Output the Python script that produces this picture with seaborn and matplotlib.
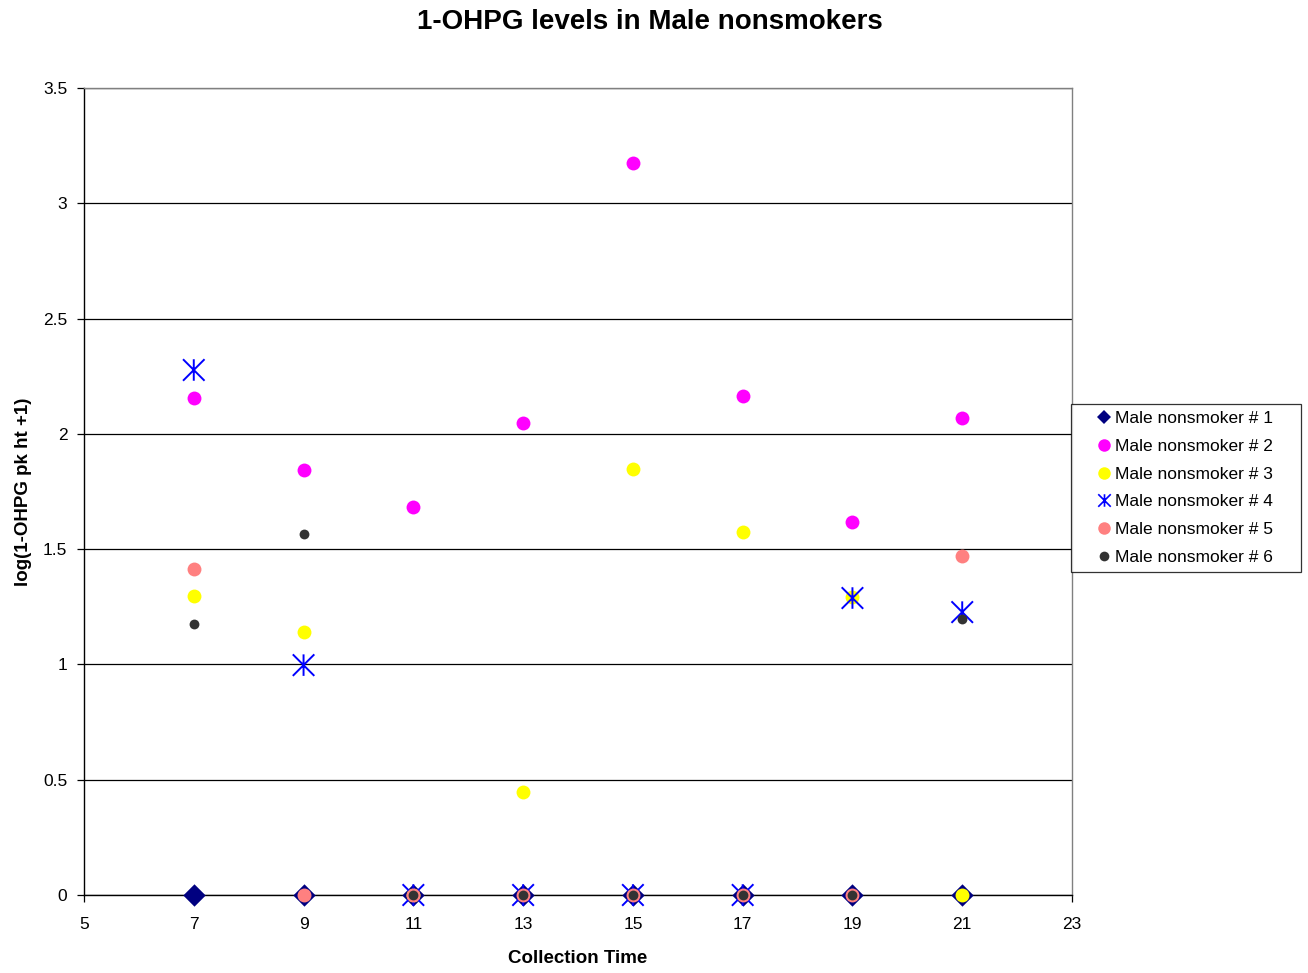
import numpy as np
import pandas as pd
import matplotlib
matplotlib.use("Agg")
import matplotlib.pyplot as plt
from matplotlib.path import Path
from matplotlib.lines import Line2D
import seaborn as sns

# ---- data ----
times = [7, 9, 11, 13, 15, 17, 19, 21]
series_names = ["Male nonsmoker # 1", "Male nonsmoker # 2", "Male nonsmoker # 3",
                "Male nonsmoker # 4", "Male nonsmoker # 5", "Male nonsmoker # 6"]
s1 = [0, 0, 0, 0, 0, 0, 0, 0]
s2 = [2.155, 1.843, 1.683, 2.047, 3.174, 2.164, 1.617, 2.068]
s3 = [1.297, 1.140, 0, 0.447, 1.847, 1.574, 1.292, 0]
s4 = [2.277, 0.997, 0, 0, 0, 0, 1.288, 1.227]
s5 = [1.414, 0, 0, 0, 0, 0, 0, 1.470]
s6 = [1.175, 1.565, 0, 0, 0, 0, 0, 1.197]
x_ticks = [5, 7, 9, 11, 13, 15, 17, 19, 21, 23]
y_ticks = [0, 0.5, 1, 1.5, 2, 2.5, 3, 3.5]

frames = []
for name, vals in zip(series_names, [s1, s2, s3, s4, s5, s6]):
    frames.append(pd.DataFrame({"time": times, "value": vals, "series": name}))
df = pd.concat(frames, ignore_index=True)

sns.set_style("white")
plt.rcParams["font.family"] = ["Liberation Sans", "DejaVu Sans"]
plt.rcParams["text.color"] = "black"
plt.rcParams["axes.labelcolor"] = "black"
plt.rcParams["xtick.color"] = "black"
plt.rcParams["ytick.color"] = "black"

star = Path([(-1, -1), (1, 1), (-1, 1), (1, -1), (0, -1), (0, 1)],
            [Path.MOVETO, Path.LINETO, Path.MOVETO, Path.LINETO, Path.MOVETO, Path.LINETO])

styles = {
    "Male nonsmoker # 1": dict(marker="D", color="#000080", s=130, lw=0),
    "Male nonsmoker # 2": dict(marker="o", color="#FF00FF", s=100, lw=0),
    "Male nonsmoker # 3": dict(marker="o", color="#FFFF00", s=100, lw=0),
    "Male nonsmoker # 4": dict(marker=star, color="#0000FF", s=240, lw=1.4),
    "Male nonsmoker # 5": dict(marker="o", color="#FF8080", s=100, lw=0),
    "Male nonsmoker # 6": dict(marker="o", color="#333333", s=50, lw=0),
}

fig = plt.figure(figsize=(13.08, 9.73), dpi=100)
ax = fig.add_axes([84 / 1308, 1 - 895 / 973, (1072 - 84) / 1308, (895 - 88) / 973])

for i, name in enumerate(series_names):
    st = styles[name]
    sub = df[df["series"] == name]
    if name == "Male nonsmoker # 4":
        sns.scatterplot(data=sub, x="time", y="value", ax=ax, marker=st["marker"],
                        s=st["s"], facecolors="none", edgecolor=st["color"],
                        linewidth=st["lw"], zorder=3 + i, legend=False, clip_on=False)
    else:
        sns.scatterplot(data=sub, x="time", y="value", ax=ax, marker=st["marker"],
                        s=st["s"], color=st["color"], linewidth=0,
                        zorder=3 + i, legend=False, clip_on=False)

ax.set_xlim(5, 23)
ax.set_ylim(0, 3.5)
ax.set_xticks(x_ticks)
ax.set_xticklabels([str(v) for v in x_ticks])
ax.set_yticks(y_ticks)
ax.set_yticklabels(["0", "0.5", "1", "1.5", "2", "2.5", "3", "3.5"])
ax.yaxis.grid(True, color="black", linewidth=0.9)
ax.xaxis.grid(False)
ax.set_axisbelow(True)
for side in ["left", "bottom"]:
    ax.spines[side].set_color("black")
    ax.spines[side].set_linewidth(1.0)
for side in ["top", "right"]:
    ax.spines[side].set_color("#808080")
    ax.spines[side].set_linewidth(1.0)
ax.tick_params(axis="both", which="both", direction="out", length=5, width=0.9,
               color="black", labelcolor="black", labelsize=12.5, bottom=True, left=True)
ax.tick_params(axis="x", pad=11)
ax.tick_params(axis="y", pad=7)

ax.set_xlabel("Collection Time", fontsize=13.5, fontweight="bold", labelpad=13,
              color="black")
ax.set_ylabel("log(1-OHPG pk ht +1)", fontsize=13.5, fontweight="bold", labelpad=8,
              color="black")
fig.text(0.497, 1 - 22 / 973, "1-OHPG levels in Male nonsmokers", fontsize=20,
         fontweight="bold", ha="center", va="center", color="black")

handles = []
for name in series_names:
    st = styles[name]
    if name == "Male nonsmoker # 4":
        h = Line2D([], [], linestyle="none", marker=star, markersize=9,
                   markerfacecolor="none", markeredgecolor=st["color"], markeredgewidth=1.2)
    elif name == "Male nonsmoker # 1":
        h = Line2D([], [], linestyle="none", marker="D", markersize=7.5,
                   markerfacecolor=st["color"], markeredgewidth=0)
    elif name == "Male nonsmoker # 6":
        h = Line2D([], [], linestyle="none", marker="o", markersize=7,
                   markerfacecolor=st["color"], markeredgewidth=0)
    else:
        h = Line2D([], [], linestyle="none", marker="o", markersize=9,
                   markerfacecolor=st["color"], markeredgewidth=0)
    handles.append(h)

lx0, lx1 = 1071 / 1308, 1301 / 1308
ly0, ly1 = 1 - 574 / 973, 1 - 404 / 973
leg = fig.legend(handles, series_names, loc="upper left",
                 bbox_to_anchor=(lx0, ly0, lx1 - lx0, ly1 - ly0), mode="expand",
                 fontsize=12.5, frameon=True, fancybox=False, shadow=False,
                 handlelength=3.0, handletextpad=-0.9, labelspacing=0.72,
                 borderpad=0.42, borderaxespad=0)
leg.get_frame().set_edgecolor("black")
leg.get_frame().set_linewidth(0.9)

fig.savefig("out.png", dpi=100)
